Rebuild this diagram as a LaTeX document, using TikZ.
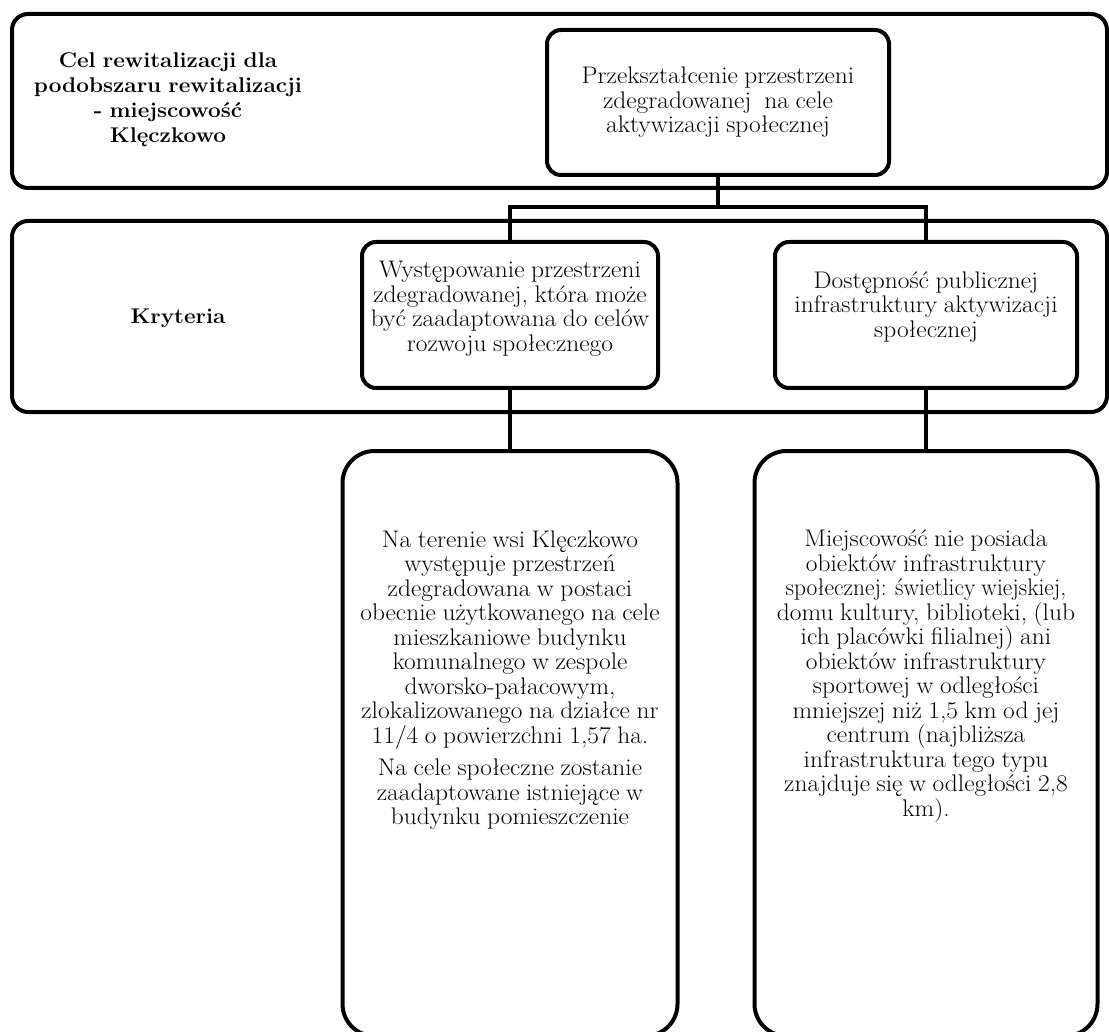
\documentclass[tikz,border=0pt]{standalone}
\usepackage{fontspec}
\setmainfont{Latin Modern Roman}[FakeStretch=1.06,WordSpace=0.85]
\begin{document}
\begin{tikzpicture}[x=1pt,y=-1pt,
  every node/.style={font=\fontsize{24}{24.5}\selectfont, align=center, inner sep=0pt},
  frame/.style={draw, line width=4pt, rounded corners=16pt},
  ibox/.style={draw, line width=4pt, rounded corners=14pt},
  bigbox/.style={draw, line width=4pt, rounded corners=32pt},
  conn/.style={line width=4pt},
  heading/.style={font=\fontsize{21.3}{25}\selectfont\bfseries}]
\useasboundingbox (0,0) rectangle (1109,1032);
% row frames
\node[frame, minimum width=1095pt, minimum height=174pt] (goalrow) at (559.5,101) {};
\node[frame, minimum width=1095pt, minimum height=191pt] (critrow) at (559.5,316.5) {};
% headings
\node[heading] (goaltitle) at (168,100) {Cel rewitalizacji dla\\podobszaru rewitalizacji\\- miejscowość\\Klęczkowo};
\node[heading] (crittitle) at (178,318) {Kryteria};
% boxes
\node[ibox, minimum width=342pt, minimum height=145pt] (goal) at (718,102.5)
  {Przekształcenie przestrzeni\\zdegradowanej\ \ na cele\\aktywizacji społecznej};
\node[ibox, minimum width=296pt, minimum height=146pt] (crit1) at (510,315) {};
\node (crit1text) at (510,309) {Występowanie przestrzeni\\zdegradowanej, która może\\być zaadaptowana do celów\\rozwoju społecznego};
\node[ibox, minimum width=302pt, minimum height=146pt] (crit2) at (926,315) {};
\node (crit2text) at (926,307) {Dostępność publicznej\\infrastruktury aktywizacji\\społecznej};
\node[bigbox, minimum width=335pt, minimum height=585pt] (desc1) at (510,743.5) {};
\node (desc1text) at (510,680) {Na terenie wsi Klęczkowo\\występuje przestrzeń\\zdegradowana w postaci\\obecnie użytkowanego na cele\\mieszkaniowe budynku\\komunalnego w zespole\\dworsko-pałacowym,\\zlokalizowanego na działce nr\\11/4 o powierzchni 1,57 ha.\\[8pt]Na cele społeczne zostanie\\zaadaptowane istniejące w\\budynku pomieszczenie};
\node[bigbox, minimum width=343pt, minimum height=585pt] (desc2) at (926,743.5) {};
\node (desc2text) at (926,676) {Miejscowość nie posiada\\obiektów infrastruktury\\\scalebox{0.92}[1]{społecznej: świetlicy wiejskiej,}\\domu kultury, biblioteki, (lub\\ich placówki filialnej) ani\\obiektów infrastruktury\\sportowej w odległości\\mniejszej niż 1,5 km od jej\\centrum (najbliższa\\infrastruktura tego typu\\znajduje się w odległości 2,8\\km).};
% connectors
\coordinate (bus) at (718,207);
\draw[conn] (goal.south) -- (bus);
\draw[conn] (crit1.north) |- (bus) -| (crit2.north);
\draw[conn] (crit1.south) -- (desc1.north);
\draw[conn] (crit2.south) -- (desc2.north);
\end{tikzpicture}
\end{document}
